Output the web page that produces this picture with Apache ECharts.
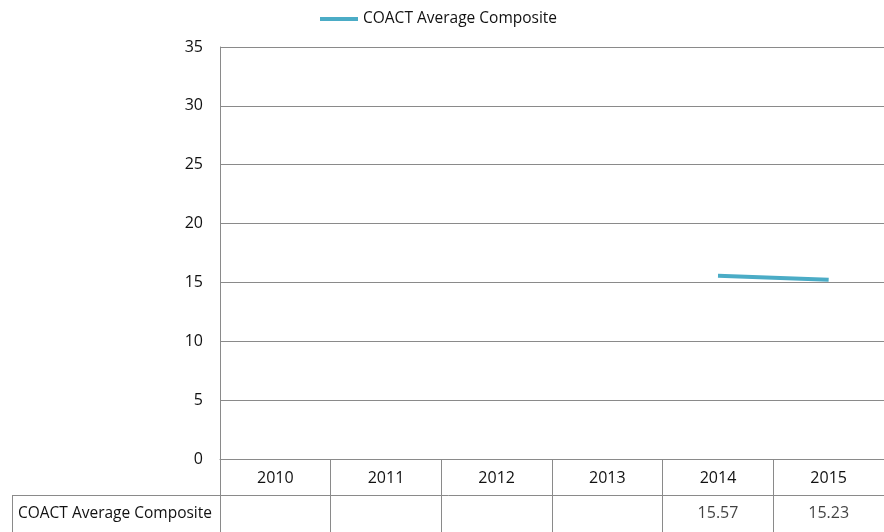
<!DOCTYPE html>
<html>
<head>
<meta charset="utf-8">
<script src="https://cdn.jsdelivr.net/npm/echarts@6/dist/echarts.min.js"></script>
<style>
html,body{margin:0;padding:0;background:#fff;}
#chart{width:884px;height:532px;}
</style>
</head>
<body>
<div id="chart"></div>
<script>
// Yearly average composite score
var years = ['2010', '2011', '2012', '2013', '2014', '2015'];
var seriesName = 'COACT Average Composite';
var composite = [null, null, null, null, 15.57, 15.23];
var yTicks = { min: 0, max: 35, interval: 5 };

var FONT = "'Open Sans', sans-serif";
var TEXT = '#111111';
var RULE = '#8a8a8a';

var chart = echarts.init(document.getElementById('chart'));

// plot area and the data table underneath share the same column bands
var left = 220, width = 670;
var plotTop = 47, plotBottom = 459;
var rowTop = 495, rowH = 37;

var tableCells = [];
years.forEach(function (y, i) {
  if (composite[i] != null) tableCells.push([i, 0, composite[i]]);
});

chart.setOption({
  animation: false,
  textStyle: { fontFamily: FONT },
  legend: {
    data: [seriesName],
    left: 320,
    top: 11,
    padding: 0,
    icon: 'rect',
    itemWidth: 38,
    itemHeight: 4,
    itemGap: 10,
    textStyle: { fontFamily: FONT, fontSize: 15.5, color: TEXT }
  },
  grid: [
    { left: left, top: plotTop, width: width, height: plotBottom - plotTop },
    { left: left, top: rowTop, width: width, height: rowH }
  ],
  xAxis: [
    {
      gridIndex: 0,
      type: 'category',
      data: years,
      boundaryGap: true,
      axisLine: { show: true, lineStyle: { color: RULE, width: 1 } },
      axisTick: { show: true, inside: false, length: rowTop - plotBottom + rowH, lineStyle: { color: RULE } },
      axisLabel: { fontFamily: FONT, fontSize: 16, color: TEXT, margin: 11 },
      splitLine: { show: false }
    },
    {
      gridIndex: 1,
      type: 'category',
      data: years,
      position: 'top',
      boundaryGap: true,
      axisLine: { show: false },
      axisTick: { show: false },
      axisLabel: { show: false }
    }
  ],
  yAxis: [
    {
      gridIndex: 0,
      type: 'value',
      min: yTicks.min,
      max: yTicks.max,
      interval: yTicks.interval,
      axisLine: { show: true, lineStyle: { color: RULE, width: 1 } },
      axisTick: { show: false },
      axisLabel: { fontFamily: FONT, fontSize: 16, color: TEXT, margin: 17 },
      splitLine: { show: true, lineStyle: { color: RULE, width: 1 } }
    },
    {
      gridIndex: 1,
      type: 'category',
      data: [seriesName],
      axisLine: { show: true, lineStyle: { color: RULE, width: 1 } },
      axisTick: { show: false },
      axisLabel: { fontFamily: FONT, fontSize: 15.5, color: TEXT, margin: 8 }
    }
  ],
  graphic: [
    {
      type: 'line',
      shape: { x1: 12.5, y1: rowTop + 0.5, x2: left + width, y2: rowTop + 0.5 },
      style: { stroke: RULE, lineWidth: 1 },
      silent: true
    },
    {
      type: 'line',
      shape: { x1: 12.5, y1: rowTop, x2: 12.5, y2: 540 },
      style: { stroke: RULE, lineWidth: 1 },
      silent: true
    }
  ],
  series: [
    {
      name: seriesName,
      type: 'line',
      xAxisIndex: 0,
      yAxisIndex: 0,
      data: composite,
      symbol: 'none',
      connectNulls: false,
      lineStyle: { color: '#4bacc6', width: 4 },
      itemStyle: { color: '#4bacc6' }
    },
    {
      name: 'table',
      type: 'scatter',
      xAxisIndex: 1,
      yAxisIndex: 1,
      data: tableCells,
      symbolSize: 0,
      silent: true,
      label: {
        show: true,
        position: 'inside',
        fontFamily: FONT,
        fontSize: 16,
        color: TEXT,
        formatter: function (p) { return p.value[2].toFixed(2); }
      }
    }
  ]
});
</script>
</body>
</html>
